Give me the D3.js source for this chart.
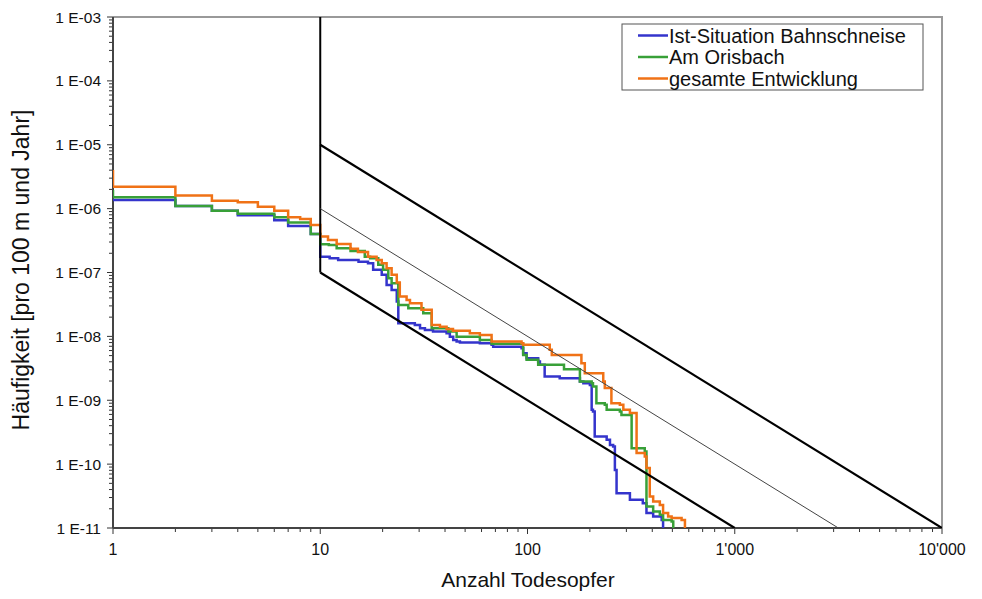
<!DOCTYPE html>
<html><head><meta charset="utf-8">
<script src="https://cdn.jsdelivr.net/npm/d3@7/dist/d3.min.js"></script>
<style>
body{margin:0;background:#fff;}
text{font-family:"Liberation Sans",Arial,sans-serif;}
</style></head>
<body><svg id="c" width="982" height="599"></svg>
<script>
// ---- data: [Anzahl Todesopfer, Häufigkeit] step points ----
const seriesNames = ["Ist-Situation Bahnschneise","Am Orisbach","gesamte Entwicklung"];
const seriesColors = ["#3434cc","#38a038","#f07216"];

const bahnschneise = [
 [1,1.37e-6],[2,1.10e-6],[3,9.3e-7],[4,7.9e-7],[6,6.58e-7],[7,5.36e-7],[9,4.0e-7],[10,1.77e-7],
 [11.1,1.67e-7],[12.2,1.57e-7],[15.3,1.48e-7],[17,1.40e-7],[18,1.10e-7],[19.8,9.2e-8],[20.9,6.4e-8],
 [22.1,5.3e-8],[23.4,3.5e-8],[23.8,1.61e-8],[28.6,1.51e-8],[30.3,1.34e-8],[32,1.26e-8],[35,1.19e-8],
 [40.7,1.12e-8],[42.2,9.9e-9],[43.8,8.8e-9],[45.5,8.3e-9],[47.2,8.0e-9],[58.9,7.8e-9],[67.1,7.4e-9],
 [68.3,6.9e-9],[93.6,6.5e-9],[95.3,5.46e-9],[99,4.56e-9],[112.6,4.04e-9],[114.8,3.58e-9],[121,2.35e-9],
 [143,2.22e-9],[179,1.96e-9],[186,1.85e-9],[200,1.74e-9],[204,7.1e-10],[207,6.65e-10],[211,2.7e-10],
 [241,2.4e-10],[250,2.0e-10],[259,1.88e-10],[264,8.1e-11],[269,3.5e-11],[312,2.76e-11],[360,2.45e-11],
 [375,1.71e-11],[404,1.51e-11],[444,1.34e-11],[451,5e-12]
];
const orisbach = [
 [1,1.96e-6],[1,1.51e-6],[2,1.10e-6],[3,9.3e-7],[4,8.35e-7],[6,7.33e-7],[7,6.04e-7],[9,4.02e-7],
 [10,2.77e-7],[11,2.70e-7],[12,2.40e-7],[14,2.18e-7],[16.4,1.77e-7],[17.4,1.67e-7],[19.05,1.32e-7],
 [20.1,1.10e-7],[21.3,8.1e-8],[22.1,6.8e-8],[23.8,3.11e-8],[26.6,2.76e-8],[31.4,2.31e-8],[34.5,1.34e-8],
 [41.5,1.19e-8],[45.5,9.9e-9],[58.9,8.8e-9],[67.1,7.7e-9],[95.3,5.13e-9],[99,4.29e-9],[112.6,3.58e-9],
 [150,3.07e-9],[179,1.96e-9],[204,1.85e-9],[207,1.64e-9],[215,9.0e-10],[236,8.5e-10],[241,7.1e-10],
 [279,6.65e-10],[284,5.9e-10],[318,1.78e-10],[368,1.57e-10],[375,2.17e-11],[404,1.81e-11],
 [435,1.61e-11],[451,1.34e-11],[496,1.26e-11],[505,5e-12]
];
const gesamt = [
 [1,4.04e-6],[1,2.21e-6],[2,1.60e-6],[3,1.33e-6],[4,1.26e-6],[5,1.07e-6],[6,9.3e-7],[7,7.33e-7],
 [8,6.9e-7],[9,5.56e-7],[10,3.65e-7],[10.9,3.24e-7],[12,2.8e-7],[14,2.35e-7],[15.2,2.1e-7],[17,1.77e-7],
 [18.7,1.57e-7],[19.8,1.40e-7],[20.9,1.17e-7],[22.1,9.2e-8],[23.4,7.0e-8],[24.2,4.2e-8],[26.1,3.72e-8],
 [27.1,3.31e-8],[30.8,2.6e-8],[34.5,1.51e-8],[37.8,1.42e-8],[40.7,1.30e-8],[43.7,1.23e-8],[52.7,1.12e-8],
 [58.9,1.05e-8],[67.1,8.3e-9],[93.6,7.8e-9],[95.3,7.4e-9],[128,6.15e-9],[131,5.13e-9],[182,3.81e-9],
 [189,2.65e-9],[232,1.96e-9],[236,1.55e-9],[254,9.0e-10],[279,8.5e-10],[290,7.1e-10],[312,6.3e-10],
 [336,1.49e-10],[368,1.32e-10],[375,8.7e-11],[389,3.1e-11],[404,2.6e-11],[435,2.3e-11],[451,1.71e-11],
 [477,1.51e-11],[496,1.43e-11],[554,1.34e-11],[575,5e-12]
];
const seriesData = [bahnschneise, orisbach, gesamt];

// criteria lines (Anzahl, Häufigkeit)
const limitVertical = [[10,1e-3],[10,1e-7]];
const limitUpper = [[10,1e-5],[10000,1e-11]];
const limitMiddle = [[10,1e-6],[3162,1e-11]];
const limitLower = [[10,1e-7],[1000,1e-11]];

const xTicks = [1,10,100,1000,10000];
const xTickLabels = ["1","10","100","1'000","10'000"];
const yTicks = [1e-3,1e-4,1e-5,1e-6,1e-7,1e-8,1e-9,1e-10,1e-11];
const yTickLabels = ["1 E-03","1 E-04","1 E-05","1 E-06","1 E-07","1 E-08","1 E-09","1 E-10","1 E-11"];

// ---- drawing ----
const L=113,R=942,T=17,B=528;
const svg=d3.select("#c");
const x=d3.scaleLog().domain([1,10000]).range([L,R]);
const y=d3.scaleLog().domain([1e-11,1e-3]).range([B,T]);

svg.append("defs").append("clipPath").attr("id","clip")
  .append("rect").attr("x",L).attr("y",T).attr("width",R-L).attr("height",B-T);

// frame top/right
svg.append("path").attr("d",`M${L},${T}H${R}V${B}`).attr("fill","none").attr("stroke","#999").attr("stroke-width",2);

// minor ticks
const xMinor=[];for(let d=1;d<10000;d*=10)for(let k=1;k<10;k++)xMinor.push(d*k);xMinor.push(10000);
const yMinor=[];for(let d=1e-11;d<1e-3*0.99;d*=10)for(let k=1;k<10;k++)yMinor.push(d*k);yMinor.push(1e-3);

const xa=svg.append("g").attr("transform",`translate(0,${B})`);
xa.selectAll("line.m").data(xMinor).join("line")
  .attr("x1",d=>x(d)).attr("x2",d=>x(d)).attr("y1",0)
  .attr("y2",d=>xTicks.some(t=>Math.abs(t-d)/t<1e-6)?6:4)
  .attr("stroke","#333").attr("stroke-width",1);
xa.append("line").attr("x1",L).attr("x2",R).attr("stroke","#444").attr("stroke-width",2);
xa.selectAll("text").data(xTicks).join("text")
  .attr("x",d=>x(d)).attr("y",27).attr("text-anchor","middle").attr("font-size",16).attr("fill","#111")
  .text((d,i)=>xTickLabels[i]);

const ya=svg.append("g").attr("transform",`translate(${L},0)`);
ya.selectAll("line.m").data(yMinor).join("line")
  .attr("y1",d=>y(d)).attr("y2",d=>y(d)).attr("x2",0)
  .attr("x1",d=>yTicks.some(t=>Math.abs(t-d)/t<1e-6)?-6:-4)
  .attr("stroke","#333").attr("stroke-width",1);
ya.append("line").attr("y1",T).attr("y2",B).attr("stroke","#444").attr("stroke-width",2);
ya.selectAll("text").data(yTicks).join("text")
  .attr("x",-12).attr("y",d=>y(d)+5.5).attr("text-anchor","end").attr("font-size",15.5).attr("fill","#111")
  .text((d,i)=>yTickLabels[i]);

// axis titles
svg.append("text").attr("x",528).attr("y",587).attr("text-anchor","middle").attr("font-size",21).attr("fill","#111").text("Anzahl Todesopfer");
svg.append("text").attr("transform",`translate(29,270) rotate(-90)`).attr("text-anchor","middle").attr("font-size",23).attr("fill","#111").text("Häufigkeit [pro 100 m und Jahr]");

const plot=svg.append("g").attr("clip-path","url(#clip)");
const step=d3.line().x(d=>x(d[0])).y(d=>y(d[1])).curve(d3.curveStepAfter);
seriesData.forEach((s,i)=>{
  plot.append("path").attr("d",step(s)).attr("fill","none")
    .attr("stroke",seriesColors[i]).attr("stroke-width",2.5);
});

const straight=d3.line().x(d=>x(d[0])).y(d=>y(d[1]));
plot.append("path").attr("d",straight(limitVertical)).attr("stroke","#000").attr("stroke-width",2).attr("fill","none");
plot.append("path").attr("d",straight(limitUpper)).attr("stroke","#000").attr("stroke-width",2.2).attr("fill","none");
plot.append("path").attr("d",straight(limitLower)).attr("stroke","#000").attr("stroke-width",2.2).attr("fill","none");
plot.append("path").attr("d",straight(limitMiddle)).attr("stroke","#444").attr("stroke-width",1).attr("fill","none");

// legend
const lg=svg.append("g");
lg.append("rect").attr("x",622).attr("y",24).attr("width",301).attr("height",66)
  .attr("fill","#fff").attr("stroke","#555").attr("stroke-width",1);
seriesNames.forEach((n,i)=>{
  const yy=35.5+i*21.5;
  lg.append("line").attr("x1",638).attr("x2",668).attr("y1",yy).attr("y2",yy)
    .attr("stroke",seriesColors[i]).attr("stroke-width",2.5);
  lg.append("text").attr("x",669).attr("y",yy+7).attr("font-size",20).attr("fill","#111").text(n);
});
</script></body></html>
